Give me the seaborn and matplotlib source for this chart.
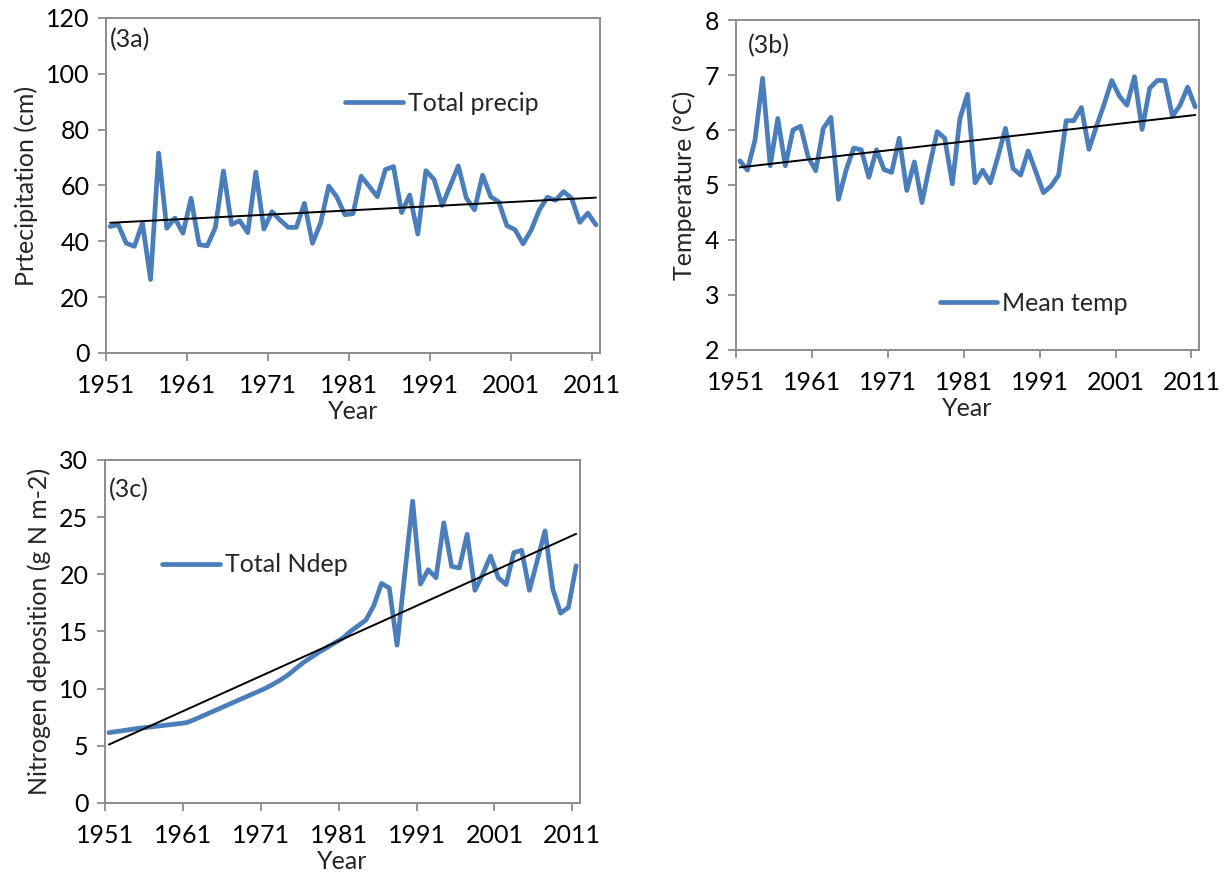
import matplotlib
matplotlib.use("Agg")
import numpy as np
import pandas as pd
import matplotlib.pyplot as plt
import seaborn as sns

# ---- data ----
years = list(range(1951, 2012))

precip = [45.3, 46.0, 39.3, 38.2, 46.5, 26.3, 71.6, 44.7, 48.3, 42.9,
          55.4, 38.8, 38.4, 44.9, 65.2, 46.0, 47.4, 43.1, 64.8, 44.4,
          50.6, 47.6, 45.0, 45.0, 53.6, 39.3, 46.6, 59.8, 55.9, 49.5,
          49.9, 63.3, 59.7, 56.0, 65.7, 66.8, 50.3, 56.6, 42.6, 65.3,
          62.2, 52.8, 59.9, 67.0, 55.5, 51.3, 63.7, 56.0, 54.1, 45.6,
          44.2, 39.1, 44.0, 51.2, 55.8, 54.7, 57.8, 55.4, 46.8, 50.1,
          45.9]

temp = [5.44, 5.27, 5.82, 6.94, 5.35, 6.21, 5.35, 6.00, 6.07, 5.51,
        5.26, 6.03, 6.23, 4.74, 5.27, 5.67, 5.64, 5.14, 5.64, 5.28,
        5.23, 5.85, 4.90, 5.42, 4.68, 5.35, 5.97, 5.85, 5.02, 6.21,
        6.65, 5.04, 5.27, 5.04, 5.51, 6.03, 5.30, 5.18, 5.62, 5.24,
        4.86, 4.98, 5.18, 6.17, 6.17, 6.41, 5.65, 6.07, 6.47, 6.90,
        6.62, 6.45, 6.97, 6.01, 6.76, 6.90, 6.90, 6.25, 6.45, 6.78,
        6.42]

ndep = [6.15, 6.25, 6.35, 6.45, 6.55, 6.62, 6.70, 6.78, 6.86, 6.94,
        7.03, 7.30, 7.60, 7.90, 8.20, 8.50, 8.80, 9.10, 9.40, 9.70,
        10.0, 10.35, 10.75, 11.2, 11.75, 12.3, 12.75, 13.2, 13.6, 14.0,
        14.4, 15.0, 15.5, 16.0, 17.25, 19.2, 18.8, 13.8, 20.1, 26.4,
        19.15, 20.4, 19.7, 24.5, 20.7, 20.55, 23.5, 18.6, 20.0, 21.6,
        19.7, 19.1, 21.9, 22.1, 18.6, 21.2, 23.8, 18.7, 16.6, 17.1,
        20.75]

tick_years = [1951, 1961, 1971, 1981, 1991, 2001, 2011]

BLUE = "#4a7ebb"
GREY = "#8c8c8c"
FS = 18

sns.set_style("white")
plt.rcParams["font.family"] = ["Lato", "DejaVu Sans"]


def draw_panel(ax, values, name, ylabel, ylim, ystep, tag, tag_xy, leg_xy):
    df = pd.DataFrame({"Year": years, "val": values})
    sns.lineplot(data=df, x="Year", y="val", ax=ax, color=BLUE,
                 linewidth=3.4, label=name)
    sns.regplot(data=df, x="Year", y="val", ax=ax, scatter=False, ci=None,
                color="black", line_kws={"linewidth": 1.4})

    ax.set_xlim(years[0] - 0.5, years[-1] + 0.5)
    ax.set_xticks([y - 0.5 for y in tick_years])
    ax.set_xticklabels([str(y) for y in tick_years])
    ax.set_ylim(*ylim)
    ax.set_yticks(np.arange(ylim[0], ylim[1] + ystep / 2, ystep))

    ax.set_xlabel("Year", fontsize=FS, labelpad=2)
    ax.set_ylabel(ylabel, fontsize=FS, labelpad=6)

    for sp in ax.spines.values():
        sp.set_visible(True)
        sp.set_color(GREY)
        sp.set_linewidth(1.4)
    ax.tick_params(direction="out", length=6, width=1.3, color=GREY,
                   labelsize=FS, labelcolor="black", pad=6,
                   bottom=True, left=True)
    ax.tick_params(axis="x", pad=9)

    ax.text(tag_xy[0], tag_xy[1], tag, transform=ax.transAxes, fontsize=FS,
            ha="left", va="center")

    ax.legend(loc="center left", bbox_to_anchor=leg_xy, frameon=False,
              fontsize=FS, handlelength=2.3, handletextpad=0.2,
              borderpad=0, borderaxespad=0)


fig = plt.figure(figsize=(12.3, 8.82), dpi=100)
ax_a = fig.add_axes([0.0862, 0.5998, 0.4016, 0.3798])
ax_b = fig.add_axes([0.5984, 0.6032, 0.3764, 0.3741])
ax_c = fig.add_axes([0.0854, 0.0896, 0.3862, 0.3889])

draw_panel(ax_a, precip, "Total precip", "Prtecipitation (cm)",
           (0, 120), 20, "(3a)", (0.008, 0.935), (0.484, 0.746))
draw_panel(ax_b, temp, "Mean temp", "Temperature (\u00b0C)",
           (2, 8), 1, "(3b)", (0.026, 0.922), (0.44, 0.142))
draw_panel(ax_c, ndep, "Total Ndep", "Nitrogen deposition (g N m-2)",
           (0, 30), 5, "(3c)", (0.008, 0.912), (0.12, 0.694))

fig.savefig("out.png", dpi=100, facecolor="white")
